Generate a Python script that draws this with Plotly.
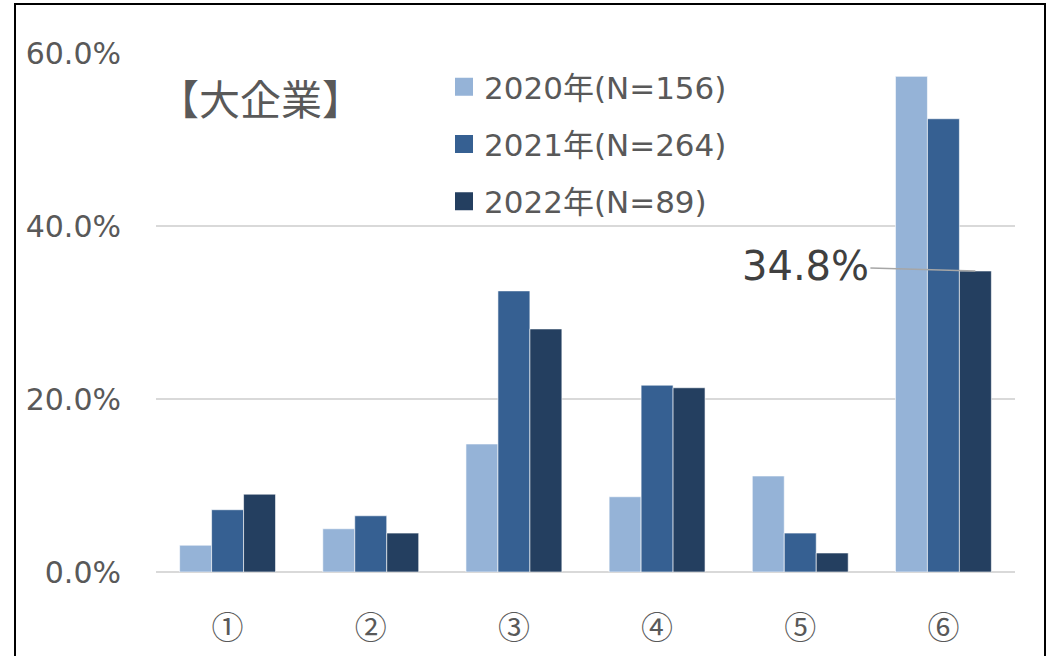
import plotly.graph_objects as go

categories = ["①", "②", "③", "④", "⑤", "⑥"]
series_names = ["2020年(N=156)", "2021年(N=264)", "2022年(N=89)"]
v2020 = [0.031, 0.050, 0.148, 0.087, 0.111, 0.573]
v2021 = [0.072, 0.065, 0.325, 0.216, 0.045, 0.524]
v2022 = [0.090, 0.045, 0.281, 0.213, 0.022, 0.348]
colors = ["#95B3D7", "#366092", "#243F60"]
yticks = [0.0, 0.2, 0.4, 0.6]

FONT = "DejaVu Sans, Noto Sans CJK JP, sans-serif"
CJK = "Noto Sans CJK JP, DejaVu Sans, sans-serif"
GREY = "#595959"

fig = go.Figure()
for i, (name, vals) in enumerate(zip(series_names, [v2020, v2021, v2022])):
    fig.add_trace(go.Bar(
        x=categories, y=vals, name=name,
        marker=dict(color=colors[i], line=dict(color="rgba(255,255,255,0.6)", width=1)),
        legendgroup=str(i), showlegend=False,
    ))
    # legend entry with a larger square swatch
    fig.add_trace(go.Scatter(
        x=[None], y=[None], mode="markers", name=name,
        marker=dict(symbol="square", size=16, color=colors[i],
                    line=dict(color=colors[i], width=2)),
        legendgroup=str(i), showlegend=True,
    ))

bargap = 0.33
W, H = 1053, 656
L, R, T, B = 156, 38, 53, 84
pw = W - L - R
ph = H - T - B

def px2x(px):
    return (px - L) / pw

def py2y(py):
    return (H - B - py) / ph

fig.update_layout(
    width=W, height=H,
    margin=dict(l=L, r=R, t=T, b=B, autoexpand=False),
    paper_bgcolor="white", plot_bgcolor="white",
    barmode="group", bargap=bargap, bargroupgap=0,
    font=dict(family=FONT, color=GREY, size=28),
    showlegend=True,
    legend=dict(
        x=px2x(444), y=py2y(60), xanchor="left", yanchor="top",
        font=dict(size=31, color=GREY, family=FONT),
        bgcolor="rgba(0,0,0,0)", tracegroupgap=14,
        itemwidth=30,
    ),
    xaxis=dict(
        type="category", showgrid=False, showline=False, ticks="",
        tickfont=dict(size=32, color=GREY, family=CJK),
        ticklabelstandoff=34, automargin=False,
    ),
    yaxis=dict(
        range=[0, 0.6], tickvals=yticks, tickformat=".1%",
        showgrid=True, gridcolor="#D9D9D9", gridwidth=1.5,
        zeroline=True, zerolinecolor="#D9D9D9", zerolinewidth=2,
        showline=False, ticks="",
        tickfont=dict(size=30, color=GREY, family=FONT),
        ticklabelstandoff=34, automargin=False,
    ),
)

# Title annotation
fig.add_annotation(
    xref="paper", yref="paper", x=px2x(260), y=py2y(97),
    text="【大企業】", showarrow=False,
    font=dict(size=41, color=GREY, family=CJK),
    xanchor="center", yanchor="middle",
)

# Value callout for 2022 bar of ⑥
bar_w = (1 - bargap) / 3
fig.add_annotation(
    x=5 + bar_w, y=v2022[5], xref="x", yref="y",
    text=f"{v2022[5]*100:.1f}%", showarrow=True, arrowhead=0,
    arrowcolor="#A6A6A6", arrowwidth=1.5,
    ax=-170, ay=-5,
    font=dict(size=40, color="#404040", family=FONT),
)

# Outer frame
fig.add_shape(
    type="rect", xref="paper", yref="paper",
    x0=px2x(15), x1=px2x(1045), y0=py2y(700), y1=py2y(4),
    line=dict(color="black", width=2), fillcolor="rgba(0,0,0,0)", layer="above",
)

fig.write_html(
    "out.html",
    config={"displayModeBar": False},
    post_script="document.body.style.margin='0';document.body.style.overflow='hidden';",
)
